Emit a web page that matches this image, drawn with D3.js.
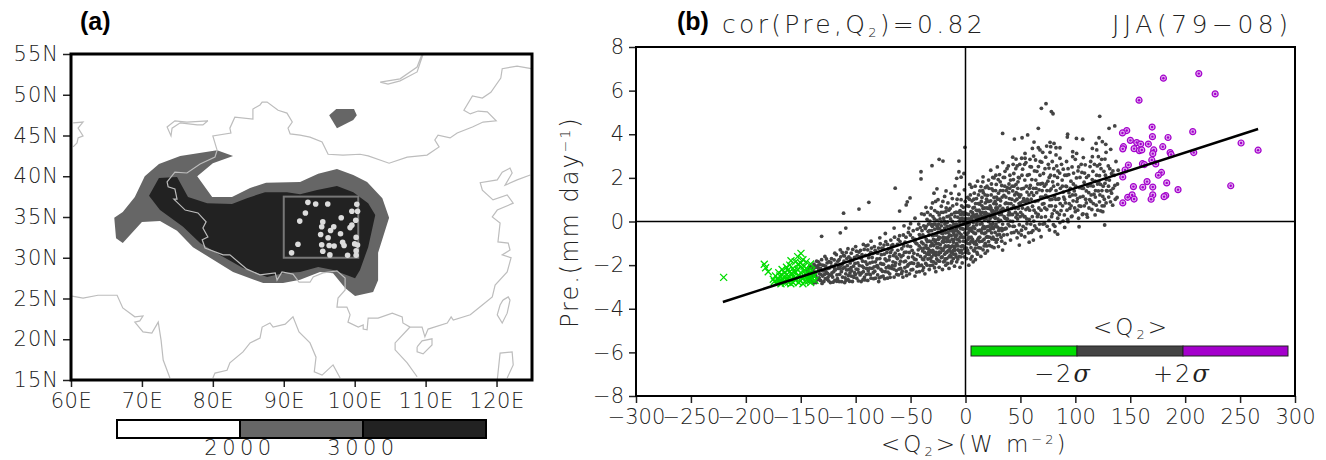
<!DOCTYPE html>
<html>
<head>
<meta charset="utf-8">
<script src="https://cdn.jsdelivr.net/npm/d3@7"></script>
<style>
  html, body { margin: 0; padding: 0; background: white; }
  svg { display: block; }
  text { font-family: "DejaVu Sans", sans-serif; font-weight: 200; fill: #222; }
</style>
</head>
<body>
<div id="chart"></div>
<script>
// ---- panel (a) data, everything in lon/lat ----
var lonTicks = [60, 70, 80, 90, 100, 110, 120];
var latTicks = [15, 20, 25, 30, 35, 40, 45, 50, 55];

var contour2000 = [[82.85,42.5],[80.6,43.2],[75.4,42.5],[72.4,41.5],[70.4,40],[69,37.45],[67.3,35.6],[66.1,34.9],[66.35,32.4],[67.3,31.8],[70,34.4],[72.55,34.5],[74.95,33.3],[77.2,31.3],[79.6,30],[82.85,28.25],[87.1,26.9],[89.9,26.9],[92.3,27.3],[95.1,28.25],[96.95,28.1],[98.65,26.3],[100.05,25.3],[102.6,25.8],[103.3,27.25],[103.3,30.6],[104.85,34.9],[103.9,37.3],[101.75,39.3],[99.8,40.15],[97.5,40.9],[94.85,40.3],[92.3,39.3],[87.5,39.2],[85.25,38.55],[82.7,37.45],[79.9,37.45],[77.8,40],[80,41.6]];
var contour2000b = [[96.4,47.5],[97.4,48.25],[99.9,48.25],[100.3,47.5],[99.8,46.9],[97.5,45.9]];
var contour3000 = [[72.4,39.8],[74.95,39.9],[76.5,37.45],[79.2,36.7],[82.7,36.6],[84.8,37.3],[87.35,38.05],[90.45,38.05],[92.3,37.8],[94.7,38.3],[97.5,38.8],[99.8,38.05],[101.9,36.7],[102.9,35.25],[101.9,31.3],[100.75,28.5],[100.05,27.5],[96.95,28.5],[94.85,28.85],[92.3,28.25],[89.9,28.1],[87.65,27.65],[84.25,28.75],[81,30.35],[78.2,31.8],[75.8,33.8],[72.55,35.85],[71,37.6]];

var borderChina = [[124.9,53.2],[122.9,53.5],[120.8,53.2],[120.6,52.05],[119.2,50.3],[118,49.6],[116.6,49.85],[115.4,48.1],[116.3,47.65],[117.4,48],[118.7,47.9],[119.95,46.8],[118.1,46.65],[116.6,46.05],[114.45,45.3],[113.45,44.7],[111.75,45.05],[111.3,44.45],[111.9,43.6],[110.2,42.6],[107.4,42.35],[104.85,41.6],[101.9,42.5],[100.75,42.7],[98.35,42.6],[96.25,42.7],[95.4,44.2],[93.7,44.8],[92.3,45.05],[90.9,45.2],[90.6,45.9],[91.2,46.65],[90.45,47.75],[89.2,48.1],[87.65,49.1],[86.95,49.1],[86.65,48.75],[85.65,48.25],[85.65,47],[83.1,47.25],[82.4,45.9],[82.55,45.3],[80,44.95],[80.6,43.2],[80.3,42.35],[78.2,41.5],[76.35,40.4],[74.65,40.5],[73.55,39.3],[73.7,38.7],[74.65,38.45],[74.95,37.2],[74.5,37.2],[76.1,35.85],[77.9,35.5],[79.05,34.4],[78.6,33.65],[79.3,32.55],[78.5,32.2],[78.9,31.2],[81.45,30.35],[82.4,30.35],[84.8,28.6],[86.65,27.9],[88.8,28.15],[89.05,27.25],[89.75,28.25],[91.3,28],[92.15,27],[93.7,27],[94.15,27.65],[95.55,28.15],[97.5,28.4],[98.65,27.5],[98.65,26.05],[97.65,25.05],[97.5,23.95],[98.9,23.95],[99.35,23],[99.05,22.1],[100.5,21.5],[101.2,21.75],[101.2,21.25],[101.75,21.15],[101.9,22.6],[103.3,22.6],[105.3,23.2],[106.7,22.75],[106.8,22],[107.8,21.5],[109.5,21.5],[109.9,20.3],[110.35,21.25],[113.05,22],[113.6,22.75],[113.9,22.35],[116.3,23],[118,24.2],[119.4,25.2],[119.8,26.65],[121.5,28.25],[122.05,30],[120.8,30.35],[121.9,30.95],[121.65,31.8],[120.2,31.95],[120.5,34.25],[119.4,35],[120.1,35.85],[122.35,36.7],[121.5,37.7],[119.5,37.1],[118,38.3],[117.7,39.2],[120.1,39.55],[120.8,40.5],[121.9,41],[122.2,40.4],[121.2,38.9],[122.9,39.55],[124.75,40.15]];
var coastVietnam = [[107.8,21.5],[105.7,19.55],[105.7,18.7],[107.4,17.1],[108.8,15.4]];
var coastHainan = [[108.8,19.05],[109.5,19.8],[110.9,20.05],[110.9,19.3],[109.65,18.2],[108.8,18.45],[108.8,19.05]];
var coastTaiwan = [[120.9,24.8],[121.65,25.2],[121.9,24.8],[121.5,23.2],[120.8,22],[120.1,23],[120.5,24.2],[120.9,24.8]];
var coastLuzon = [[120.1,15],[120.5,18.3],[122.2,18.45],[122.35,16.85],[121.5,15.25]];
var coastIndiaW = [[60.15,25.3],[61.7,25.05],[63.8,25.4],[66.5,25.4],[67.3,23.85],[69,22.75],[70.15,22.85],[69.7,22.25],[69,22.1],[70.15,20.9],[71.4,20.75],[72.3,22.1],[72.7,19.9],[73,17.45],[73.95,15.25]];
var coastIndiaE = [[80,15.25],[80.3,15.85],[82,16.2],[82.4,17.1],[84.25,18.45],[85.25,19.55],[86.65,20.15],[86.95,21.5],[88.05,22],[88.5,21.5],[90.2,21.85],[91.3,22.75],[92.15,20.9],[93.7,19.55],[94.55,17.8],[94.3,16],[95.4,15.6],[96.95,16.85],[97.95,15.25]];
var lakeAral = [[60.3,46.55],[61.7,46.65],[61,45.9],[61.7,44.95],[61,44.7],[60.85,44.1],[60.3,43.6]];
var lakeBalkhash = [[79.3,46.8],[76.35,46.65],[74.65,46.8],[73.55,46.05],[74.1,44.95],[74.25,45.9],[75.4,46.55],[77.8,46.3],[78.6,46.3],[79.3,46.8]];
var lakeBaikal = [[109.5,55],[108.8,53.4],[106.4,51.95],[103.6,51.55],[104.7,51.3],[106.4,51.7],[108.8,52.8],[109.65,55]];

var boxLon = [90, 100.5];
var boxLat = [30, 37.5];
var stations = [[93.4,36.8],[94.5,36.6],[96.2,36.6],[100.3,36.55],[99.6,35.7],[100.4,35.7],[93.05,35.5],[98.1,34.9],[100.15,34.6],[92.25,34.5],[95.5,34.4],[95.35,33.8],[97.05,33.8],[96.6,33.35],[99.6,34],[99.35,33.7],[95.2,32.85],[98,32.95],[96.25,32.45],[100.2,32.5],[95.35,31.6],[96.4,31.5],[97.1,31.45],[98.3,31.9],[98.5,31.5],[92,31.65],[100,31.7],[100.4,31.55],[95.5,30.8],[100.2,30.85],[91.1,30.6],[96.5,30.35],[99,30.3],[100.2,30.3]];

var barLevels = [2000, 3000];
var barColors = ["#ffffff", "#666666", "#222222"];

// ---- panel (b) data, x in W m-2, y in mm/day ----
var q2Ticks = [-300, -250, -200, -150, -100, -50, 0, 50, 100, 150, 200, 250, 300];
var preTicks = [-8, -6, -4, -2, 0, 2, 4, 6, 8];
var fitLine = [[-220.9, -3.69], [266.4, 4.24]];

var wetPoints = [[180.2,6.57],[212.4,6.78],[227.3,5.85],[158,5.56],[169.9,4.33],[146.8,4.17],[142.9,4.06],[206.9,4.12],[170.2,3.89],[184.4,3.85],[150.1,3.72],[155.9,3.62],[159.5,3.55],[166.5,3.55],[179.6,3.43],[143.8,3.43],[143.2,3.33],[153.5,3.34],[158.3,3.25],[160.5,3.28],[171.4,3.28],[170.5,3.11],[186.3,3.16],[187.2,3.07],[207.8,3.16],[250.9,3.6],[266.4,3.27],[169.6,2.82],[148.3,2.59],[161.1,2.65],[162.9,2.61],[173.2,2.64],[145.3,2.36],[178.4,2.25],[175.6,2.12],[143.2,2.04],[165.3,1.83],[183.2,1.77],[152.9,1.6],[161.4,1.57],[170.5,1.58],[193.5,1.46],[241.5,1.64],[147.7,1.11],[151.7,1.22],[153.5,1.03],[170.5,1.22],[169,1.02],[182.3,1.19],[180.8,1.14],[143.2,0.85]];

var dryPoints = [[-220.2,-2.56],[-183.2,-1.96],[-182,-2.12],[-179.6,-2.3],[-149.8,-1.46],[-152.8,-1.61],[-158.9,-1.8],[-155,-1.85],[-145,-1.85],[-141,-1.95],[-148,-1.75],[-152,-1.95],[-160,-2],[-163,-2.1],[-157,-2.15],[-150,-2.1],[-145,-2.15],[-140,-2.25],[-167,-2.2],[-170,-2.35],[-165,-2.35],[-160,-2.3],[-155,-2.35],[-150,-2.35],[-146,-2.4],[-142,-2.45],[-138,-2.5],[-173,-2.5],[-169,-2.5],[-165,-2.55],[-161,-2.5],[-157,-2.55],[-152,-2.5],[-148,-2.6],[-144,-2.6],[-140,-2.65],[-175,-2.65],[-171,-2.65],[-168,-2.7],[-163,-2.7],[-159,-2.7],[-155,-2.7],[-150,-2.72],[-146,-2.75],[-141,-2.8],[-137,-2.7],[-172,-2.8],[-168,-2.85],[-164,-2.82],[-159,-2.85],[-143,-2.25],[-147,-2.05],[-153,-2.2],[-158,-2.42],[-162,-2.62],[-167,-2.45],[-170,-2.72],[-155,-2.58],[-150,-1.9],[-144,-2.5],[-174,-2.75],[-169,-2.78],[-166,-2.65],[-161,-2.78],[-157,-2.8],[-152,-2.8],[-148,-2.85],[-143,-2.72],[-139,-2.4],[-146,-2.25],[-156,-2.25],[-162,-2.25]];

var normalPoints = [
// outliers read one by one
[-131,-0.68],[-114,-0.52],[-109,-0.3],[-111,0.38],[-97,0.57],[-88,0.88],[-64,1.53],[-50.5,1.08],[-53,0.9],[-54,0.76],[-60,0.48],[-40.5,2.28],[-40.5,1.95],[-30.5,2.56],[-24,2.85],[-20.5,2.77],[-6,2.77],[-6,2.28],[-8,1.98],[-4,2.03],[-1.4,2.2],[-26,1.5],[-28.7,1.3],[-0.5,3.4],
[73.3,5.4],[69.1,5.19],[78.2,5.04],[79.7,4.94],[122.2,4.82],[130.7,4.27],[135.9,4.38],[66.3,4.27],[33.8,4.04],[44.5,3.78],[51.5,3.84],[56.6,3.97],[93,4],[92.7,3.87],[101,3.81],[106.7,3.77],[121.6,3.84],[62.4,3.64],[60.9,3.35],[77,3.63],[80.6,3.58],[73.9,3.46],[77.6,3.43],[82.4,3.38],[86,3.38],[118.9,3.58],[124.6,3.66],[127.7,3.54],[132.2,3.31],[115.5,3.35],[119.5,3.28],[128,3.17],[66.3,3.38],[67.8,3.28],[70.3,3.17],[77,3.17],[82.4,3.05],[97.6,3.2],[101.2,3.12],[97.6,2.97],[107.3,2.93],[115.5,2.97],[121,2.97],[127,2.86],[46,2.86],[51.1,2.9],[54.2,2.9],[58.7,2.85],[54.2,3.12],
[126.7,-0.16],[103.4,-0.24],[123.1,0.49],[93.4,-0.01],[90.3,-0.27],[81.5,-0.47],[83.9,-0.58],[76.4,-0.39],[68.8,-0.7],[61.8,-0.85],[58,-0.95],[49,-1.08],[33.8,-1.31],[24,-1.15],[18,-1.45],
// left part of the band
[-144,-2.3],[-143,-2.6],[-142,-2.05],[-141,-2.45],[-140,-2.75],[-139,-2.2],[-138,-1.95],[-138,-2.5],[-137,-2.35],[-136,-2.8],[-135,-2.1],[-135,-2.6],[-134,-1.85],[-133,-2.4],[-132,-2.7],[-132,-2.15],[-131,-1.75],[-130,-2.5],[-130,-2],[-129,-2.75],[-128,-1.6],[-127,-2.3],[-126,-2.65],[-126,-1.9],[-125,-2.15],[-124,-2.45],[-123,-2.8],[-122,-1.7],[-122,-2.05],[-121,-2.55],[-120,-2.3],[-119,-1.45],[-119,-2.7],[-118,-1.95],[-117,-2.45],[-116,-2.15],[-115,-2.75],[-115,-1.75],[-114,-1.3],[-113,-2.3],[-112,-2.55],[-112,-1.95],[-111,-1.55],[-110,-2.8],[-110,-2.1],[-109,-2.4],[-108,-1.7],[-107,-2.65],[-107,-1.25],[-106,-2.2],[-105,-1.9],[-104,-2.5],[-104,-1.45],[-103,-2.75],[-102,-2.05],[-101,-2.35],[-101,-1.65],[-100,-1.15],[-99,-2.6],[-98,-1.9],[-98,-2.2],[-97,-1.4],[-96,-2.45],[-95,-2.75],[-95,-1.7],[-94,-2.05],[-93,-2.3],[-93,-1.05],[-92,-2.55],[-91,-1.55],[-91,-1.85],[-90,-2.15],[-89,-2.7],[-89,-1.3],[-88,-2.4],[-87,-1.9],[-86,-0.9],[-86,-2.6],[-85,-1.65],[-85,-2.15],[-84,-2.35],[-83,-1.15],[-82,-1.85],[-82,-2.6],[-81,-2.05],[-80,-1.45],[-80,-2.45],[-79,-2.75],[-78,-0.75],[-78,-1.7],[-77,-2.2],[-76,-1.95],[-75,-2.5],[-75,-1.25],[-74,-1.5],[-73,-2.3],[-73,-0.55],[-72,-1.8],[-71,-2.6],[-71,-1.05],[-70,-2.05],[-69,-1.6],[-69,-2.4],[-68,-0.85],[-67,-1.3],[-67,-2.15],[-66,-1.85],[-65,-2.55],[-65,-0.3],[-64,-1.45],[-63,-2.25],[-62,-1.05],[-62,-1.7],[-61,-2.45],[-60,-0.65],[-60,-1.95],[-59,-2.15],[-58,-1.25],[-57,-1.55],[-57,-2.55],[-56,-0.2],[-56,-1.85],[-55,-0.95],[-54,-2.3],[-54,-1.4],[-53,-2.05],[-52,-0.5],[-52,-1.65],[-51,-2.4],[-50,-1.15],[-50,-0.1],[-49,-1.9],[-48,-0.75],[-48,-2.2],[-47,-1.45],[-46,0.15],[-46,-2.5],[-45,-1],[-45,-1.75],[-44,-0.35],[-44,-2.05],[-43,-1.3],[-42,-2.3],[-42,-0.6],[-41,-1.6],[-40,0.35],[-40,-0.95],[-40,-2],
// middle, densest part
[-39,-1.35],[-39,-2.25],[-38,-0.2],[-38,-1.75],[-37,-0.7],[-37,-2.4],[-36,-1.1],[-36,0.65],[-35,-1.5],[-35,-2],[-35,0.1],[-34,-0.45],[-34,-1.25],[-33,-2.2],[-33,-0.9],[-32,-1.7],[-32,0.3],[-31,-1.4],[-31,-0.15],[-30,-2],[-30,-0.65],[-30,0.85],[-29,-1.1],[-29,-1.85],[-28,-0.35],[-28,0.5],[-27,-1.55],[-27,-2.3],[-27,-0.85],[-26,0.05],[-26,-1.2],[-25,-1.8],[-25,-0.5],[-25,1],[-24,-1.4],[-24,-2.1],[-24,0.3],[-23,-0.75],[-23,-1.05],[-22,-1.65],[-22,-0.2],[-22,0.7],[-21,-1.3],[-21,-2.2],[-21,-0.55],[-20,0.15],[-20,-0.95],[-20,-1.85],[-19,1.15],[-19,-1.5],[-19,-0.3],[-18,-0.75],[-18,-2],[-18,0.45],[-17.7,1.4],[-17,-1.15],[-17,-0.05],[-17,-1.7],[-16,0.85],[-16,-0.5],[-16,-1.35],[-15,-2.15],[-15,-0.9],[-15,0.25],[-14,-1.55],[-14,-0.2],[-14,0.6],[-13.2,1.29],[-13,-1.15],[-13,-1.9],[-13,-0.65],[-12,0],[-12,-1.4],[-12,1.05],[-11,-0.4],[-11,-0.95],[-11,-1.7],[-10,0.4],[-10,-2.05],[-10,-1.2],[-9.5,1.63],[-9,-0.15],[-9,-0.7],[-9,-1.5],[-8,0.8],[-8,-1],[-8,-1.85],[-7,0.2],[-7,-0.45],[-7,-1.3],[-6,1.25],[-6,-0.85],[-6,-1.6],[-5,0.5],[-5,-0.1],[-5,-2.1],[-4,-1.15],[-4,-0.6],[-4,1],[-3,0.15],[-3,-1.45],[-3,-1.9],[-2,-0.35],[-2,0.65],[-2,-0.9],[-1,1.45],[-1,-1.25],[-1,0],[1,-0.6],[1,0.35],[1,-1.7],[2,1.1],[2,-1],[2,-0.2],[3,-1.45],[3,0.7],[3,-2],[4,0.1],[4,-0.75],[4,1.7],[5,-1.2],[5,0.45],[5.6,1.57],[6,-0.45],[6,-1.6],[6,0.95],[7,-0.05],[7,-0.95],[7,-1.85],[8,0.65],[8,1.3],[8,-1.35],[9,-0.55],[9,0.2],[9,-1.75],[10,-1.05],[10,1.05],[10,-0.15],[11,0.5],[11,-1.5],[11,1.85],[12,-0.75],[12,0.05],[12,-1.2],[13,1.4],[13,0.8],[13,-0.4],[14,-1.6],[14.1,1.6],[14,0.3],[15,-0.9],[15,-0.1],[15,1.1],[16,-1.3],[16,0.6],[16,2.05],[17,-0.55],[17,0.1],[18,-1],[18,1.55],[18,0.85],[19,-0.25],[19,0.35],[20,-1.35],[20,-0.7],[20,1.2],[21,1.9],[21,0.6],[21,0],[22,-1.1],[22,-0.4],[23,0.95],[23,0.2],[23,2.35],[24,-0.8],[24,1.5],[25,-0.1],[25,0.5],[26,-1.2],[26,2],[26,1.1],[27,-0.5],[27,0.15],[28,0.8],[28,1.7],[28,-0.95],[29,2.5],[29,-0.25],[30,0.4],[30,1.3],[30,-1.15],[31,-0.6],[31,2.15],[32,0.95],[32,0.05],[33,-0.9],[33,1.65],[34,0.6],[34,2.7],[35,-0.35],[35,1.2],[36,0.15],[36,-1],[36,2.3],[37,0.85],[38,1.55],[38,-0.6],[39,0.3],[39,2.55],[40,-0.2],[40,1.05],[41,1.9],[41,-0.85],[42,0.6],[43,0],[43,1.4],[43,2.95],[44,-0.5],[44,2.2],[45,0.95],[46,0.2],[46,1.7],[47,-0.75],[47,2.55],[48,0.6],[48,1.25],[49,-0.15],[49,2],[50,0.85],
// right part of the band
[51,-0.4],[51,1.5],[52,0.3],[52,2.4],[53,1.05],[54,-0.7],[54,1.9],[55,0.55],[55,2.7],[56,-0.1],[56,1.35],[57,0.95],[58,2.15],[58,0.1],[59,1.65],[60,-0.5],[60,2.5],[61,0.7],[62,1.2],[62,3],[63,-0.2],[64,1.9],[64,0.4],[65,2.3],[66,0.95],[67,-0.4],[67,1.45],[68,2.75],[69,0.2],[70,1.75],[70,0.8],[71,2.2],[72,-0.1],[73,1.2],[73,2.95],[74,0.55],[75,1.85],[76,2.45],[76,0.05],[77,1],[78,1.5],[79,2.75],[79,0.35],[80,-0.15],[81,1.15],[81,2.1],[82,0.7],[83,2.55],[84,1.7],[84,0.15],[85,1.05],[86,2.9],[86,-0.05],[87,0.5],[88,1.9],[89,1.35],[89,2.4],[90,0.3],[91,0.85],[92,2.75],[92,1.6],[93,0.1],[94,2.15],[95,1.15],[95,0.6],[96,1.85],[97,2.5],[97,0.25],[98,0.95],[99,1.4],[100,2.85],[100,0.45],[101,2],[102,1.05],[103,0.15],[103,2.5],[104,1.55],[105,0.7],[106,2.25],[107,1.15],[107,0.35],[108,1.8],[109,2.6],[110,0.85],[110,1.4],[111,0.2],[112,2.1],[113,1],[114,1.65],[114,2.75],[115,0.55],[116,2.3],[117,1.25],[118,0.3],[118,1.85],[119,0.75],[120,2.55],[121,1.4],[122,0.9],[122,2.1],[123,1.7],[124,2.85],[125,1.15],[125,0.45],[126,2.3],[127,1.75],[128,0.85],[129,1.4],[130,2.55],[131,1.9],[132,0.9],[133,1.3],[133,2.2],[134,0.75],[136,1.65],[137,2.75],[138,1.1],[139,2.35]
];

// second pass over the cloud: the dots between the ones above
var normalFill = [
// left
[-143.4,-2.18],[-142.6,-2.74],[-141.3,-2.33],[-140.4,-2.08],[-139.5,-2.56],[-138.4,-2.82],[-137.6,-2.12],[-136.4,-2.48],[-135.5,-1.82],[-134.6,-2.66],[-133.6,-2.22],[-132.5,-1.96],[-131.6,-2.42],[-130.6,-2.84],[-129.5,-2.26],[-128.6,-2.02],[-127.6,-2.62],[-126.6,-1.72],[-125.6,-2.38],[-124.6,-2.72],[-123.6,-2.12],[-122.6,-1.88],[-121.6,-2.36],[-120.6,-2.78],[-119.6,-1.76],[-118.6,-2.22],[-117.6,-1.52],[-116.6,-2.62],[-115.6,-2.02],[-114.6,-2.42],[-113.6,-1.62],[-112.7,-2.76],[-111.6,-2.16],[-110.6,-1.82],[-109.6,-2.58],[-108.6,-1.42],[-107.6,-2.02],[-106.6,-2.48],[-105.6,-2.74],[-104.6,-1.72],[-103.6,-2.26],[-102.6,-1.28],[-101.6,-2.56],[-100.6,-1.92],[-99.6,-2.18],[-98.6,-1.56],[-97.6,-2.72],[-96.6,-2.02],[-95.6,-1.32],[-94.6,-2.36],[-93.6,-1.82],[-92.6,-2.12],[-91.6,-2.68],[-90.6,-1.12],[-89.6,-1.96],[-88.6,-2.26],[-87.6,-1.52],[-86.6,-2.44],[-85.6,-1.22],[-84.6,-1.86],[-83.6,-2.62],[-82.6,-2.28],[-81.6,-1.42],[-80.6,-1.72],[-79.6,-2.12],[-78.6,-2.58],[-77.6,-1.02],[-76.6,-1.52],[-75.6,-2.28],[-74.6,-1.96],[-73.6,-2.62],[-72.6,-0.92],[-71.6,-1.42],[-70.6,-2.32],[-69.6,-1.76],[-68.6,-2.56],[-67.6,-1.12],[-66.6,-2.02],[-65.6,-1.56],[-64.6,-0.72],[-63.6,-1.9],[-62.6,-2.42],[-61.6,-1.32],[-60.6,-2.18],[-59.6,-0.92],[-58.6,-1.62],[-57.6,-2.28],[-56.6,-0.62],[-55.6,-1.42],[-54.6,-1.82],[-53.6,-2.48],[-52.6,-1.12],[-51.6,-0.3],[-50.6,-1.92],[-49.6,-2.22],[-48.6,-1.32],[-47.6,-0.42],[-46.6,-1.72],[-45.6,-0.82],[-44.6,-2.32],[-43.6,-1.52],[-42.6,-0.12],[-41.6,-2.02],[-40.6,-1.22],[-143,-2.42],[-139,-2.38],[-134.2,-2.02],[-128.2,-2.42],[-124.2,-1.84],[-120.2,-2.06],[-116.2,-1.82],[-112.2,-1.42],[-108.2,-2.22],[-104.2,-2.12],[-100.2,-2.42],[-96.2,-1.62],[-92.2,-1.28],[-88.2,-1.66],[-84.2,-1.46],[-80.2,-2.02],[-76.2,-1.22],[-72.2,-2.12],[-68.2,-1.42],[-64.2,-2.02],[-60.2,-1.52],[-56.2,-1.12],[-52.2,-1.98],[-48.2,-1.62],[-44.2,-1.02],[-41.2,-0.72],
// middle
[-39.6,-0.42],[-39.2,-1.72],[-38.6,-1.02],[-38.2,-2.12],[-37.6,0.32],[-37.2,-1.42],[-36.6,-0.32],[-36.2,-1.92],[-35.6,-0.82],[-35.2,-1.22],[-34.6,0.42],[-34.2,-1.72],[-33.6,-0.12],[-33.2,-0.62],[-32.6,-1.32],[-32.2,-2.02],[-31.6,-0.92],[-31.2,0.62],[-30.6,-1.62],[-30.2,-0.22],[-29.6,0.22],[-29.2,-0.82],[-28.6,-1.42],[-28.2,-2.12],[-27.6,-0.12],[-27.2,0.92],[-26.6,-1.02],[-26.2,-1.72],[-25.6,0.42],[-25.2,-0.32],[-24.6,-1.02],[-24.2,-0.72],[-23.6,-1.82],[-23.2,0.12],[-22.6,-1.22],[-22.2,0.42],[-21.6,-0.42],[-21.2,-1.62],[-20.6,0.92],[-20.2,-0.72],[-19.6,-1.22],[-19.2,0.02],[-18.6,-1.72],[-18.2,-0.52],[-17.6,0.62],[-17.2,-0.92],[-16.6,-0.22],[-16.2,-1.92],[-15.6,-1.12],[-15.2,0.52],[-14.6,-0.62],[-14.2,-1.22],[-13.6,0.12],[-13.2,-1.62],[-12.6,-0.42],[-12.2,-0.82],[-11.6,0.72],[-11.2,-1.32],[-10.6,-0.12],[-10.2,-0.62],[-9.6,0.22],[-9.2,-1.12],[-8.6,-1.62],[-8.2,-0.32],[-7.6,1.02],[-7.2,-0.82],[-6.6,0.42],[-6.2,-1.32],[-5.6,-0.52],[-5.2,-0.92],[-4.6,0.12],[-4.2,-1.62],[-3.6,0.72],[-3.2,-0.32],[-2.6,-0.72],[-2.2,-1.12],[-1.6,0.32],[-1.2,-1.62],[-0.6,-0.52],[-0.2,0.92],[0.4,-0.92],[0.8,-0.12],[1.4,0.72],[1.8,-1.32],[2.4,-0.52],[2.8,0.32],[3.4,-0.12],[3.8,-1.02],[4.4,1.22],[4.8,-1.72],[5.4,-0.32],[5.8,0.12],[6.4,-0.82],[6.8,0.62],[7.4,-1.32],[7.8,0.22],[8.4,-0.32],[8.8,1.62],[9.4,-0.92],[9.8,0.52],[10.4,-1.42],[10.8,0.02],[11.4,-0.42],[11.8,1.22],[12.4,0.52],[12.8,-0.92],[13.4,0.12],[13.8,-1.22],[14.4,0.92],[14.8,-0.52],[15.4,0.42],[15.8,1.82],[16.4,-0.22],[16.8,-0.82],[17.4,0.62],[17.8,1.22],[18.4,-0.52],[18.8,0.12],[19.4,-1.12],[19.8,0.92],[20.4,0.32],[20.8,-0.22],[21.4,1.52],[21.8,-0.72],[22.4,0.72],[22.8,-0.12],[23.4,1.22],[23.8,-0.52],[24.4,0.42],[24.8,2.02],[25.4,-0.32],[25.8,0.82],[26.4,-0.82],[26.8,0.22],[27.4,1.42],[27.8,-0.12],[28.4,0.52],[28.8,-0.62],[29.4,1.02],[29.8,1.92],[30.4,0],[30.8,-0.32],[31.4,0.72],[31.8,1.42],[32.4,-0.72],[32.8,0.32],[33.4,1.12],[33.8,-0.12],[34.4,2.02],[34.8,-0.62],[35.4,0.52],[35.8,1.62],[36.4,-0.32],[36.8,1.12],[37.4,0.12],[37.8,2.42],[38.4,0.62],[38.8,-0.12],[39.4,1.32],[39.8,0.42],[40.4,2.12],[40.8,0.02],[41.4,0.82],[41.8,-0.52],[42.4,1.62],[42.8,0.32],[43.4,2.62],[43.8,0.72],[44.4,-0.22],[44.8,1.22],[45.4,0.42],[45.8,2.42],[46.4,-0.42],[46.8,1.02],[47.4,0.12],[47.8,1.82],[48.4,-0.52],[48.8,0.82],[49.4,2.62],[49.8,0.22],
// thick core around the line
[-30.4,-1.02],[-28.4,-0.62],[-26.4,-0.62],[-24.4,-0.12],[-22.4,-0.52],[-20.4,-1.32],[-18.4,-1.12],[-16.4,-0.82],[-14.4,-0.92],[-12.4,-0.22],[-10.4,-0.82],[-8.4,-0.12],[-6.4,-0.22],[-4.4,-0.32],[-2.4,0.02],[-0.4,-0.92],[1.6,-0.32],[3.6,-0.42],[5.6,0.22],[7.6,-0.52],[9.6,0.02],[11.6,0.22],[13.6,0.42],[15.6,-0.32],[17.6,0.32],[19.6,0.62],[21.6,0.32],[23.6,0.52],[25.6,0.22],[27.6,0.62],[29.6,0.12],[-33,-1.52],[-29,-1.52],[-25,-1.2],[-21,-0.92],[-17,-1.42],[-13,-1.42],[-9,-0.42],[-5,-1.42],[-1,-0.72],[3,-0.72],[7,0.32],[11,0.12],[15,0.72],[19,-0.72],[23,-0.32],[27,0.92],[31,0.32],[-31,-1.82],[-27,-1.92],[-23,-1.42],[-19,-1.82],[-15,-1.62],[-11,-1.5],[-7,-1.72],[-3,-1.12],[1,-1.22],[5,-0.92],[9,-1.22],[13,-0.72],[17,-1.12],[21,-0.92],[25,-0.72],[29,-0.82],[33,-0.32],[37,-0.32],
// right
[50.4,1.22],[50.8,-0.62],[51.4,2.12],[51.8,0.62],[52.4,-0.22],[52.8,1.52],[53.4,0.22],[53.8,2.62],[54.4,0.92],[54.8,-0.32],[55.4,1.62],[55.8,0.12],[56.4,2.12],[56.8,0.62],[57.4,-0.52],[57.8,1.22],[58.4,0.52],[58.8,2.52],[59.4,-0.12],[59.8,1.02],[60.4,1.92],[60.8,0.22],[61.4,-0.42],[61.8,1.52],[62.4,0.52],[62.8,2.32],[63.4,0.92],[63.8,2.82],[64.4,-0.32],[64.8,1.32],[65.4,0.22],[65.8,1.72],[66.4,2.52],[66.8,0.62],[67.4,-0.12],[67.8,2.12],[68.4,1.12],[68.8,0.52],[69.4,2.72],[69.8,1.42],[70.4,-0.12],[71.4,0.82],[71.8,1.62],[72.4,2.42],[72.8,0.22],[73.4,1.72],[74.4,-0.22],[74.8,1.12],[75.4,2.62],[76.4,0.72],[76.8,1.42],[77.4,2.12],[78.4,0.22],[78.8,1.02],[79.4,1.82],[80.4,2.42],[80.8,0.52],[81.4,-0.22],[82.4,1.42],[83.4,0.42],[83.8,2.02],[84.4,1.02],[85.4,0.32],[85.8,2.22],[86.4,1.52],[87.4,2.62],[88.4,0.72],[88.8,0.02],[89.4,1.12],[90.4,2.12],[91.4,1.62],[92.4,0.52],[93.4,2.42],[94.4,0.82],[95.4,1.52],[96.4,0.22],[97.4,1.22],[98.4,2.22],[99.4,0.62],[100.4,1.62],[101.4,0.92],[102.4,2.32],[103.4,0.72],[104.4,1.12],[105.4,2.62],[106.4,0.32],[107.4,1.52],[108.4,2.22],[109.4,1.02],[110.4,0.32],[111.4,1.62],[112.4,0.62],[113.4,2.52],[114.4,1.22],[115.4,1.92],[116.4,0.82],[117.4,2.62],[118.4,1.42],[119.4,2.12],[120.4,0.52],[121.4,1.82],[122.4,1.22],[123.4,2.42],[124.4,0.72],[125.4,1.62],[126.4,1.02],[127.4,2.12],[128.4,1.42],[130.4,1.12],[131.4,2.42],[134.4,1.52],[135.4,2.12],[136.4,1.02],[138.4,1.72]
];

// third pass, the solid-looking parts of the band
var normalCore = [
[-141.8,-2.62],[-138.8,-2.28],[-136.8,-2.04],[-133.2,-2.58],[-130.2,-2.24],[-127.2,-2.06],[-125.2,-2.56],[-122.2,-2.46],[-119.2,-2.16],[-117.2,-2.74],[-114.2,-2.16],[-113.2,-2.02],[-110.2,-1.58],[-108.8,-2.7],[-106.2,-1.62],[-105.2,-2.36],[-102.8,-1.78],[-102.2,-2.52],[-99.2,-1.36],[-97.2,-2.34],[-94.2,-1.52],[-93.2,-2.66],[-90.2,-2.42],[-88.8,-1.08],[-87.2,-2.14],[-86.2,-1.42],[-83.2,-2.08],[-82.2,-1.32],[-79.2,-1.22],[-77.2,-1.92],[-76.8,-2.54],[-74.2,-1.08],[-73.2,-1.72],[-70.2,-1.26],[-69.2,-2.12],[-66.2,-1.06],[-65.2,-2.18],[-63.2,-1.62],[-61.2,-0.82],[-59.2,-1.82],[-58.2,-2.38],[-55.2,-2.12],[-54.2,-0.72],[-51.2,-1.42],[-50.2,-0.62],[-47.2,-1.92],[-46.2,-0.92],[-43.2,-1.92],[-42.2,-1.12],[-41.2,-0.28],
[-38.8,-0.62],[-37.8,-1.22],[-36.8,-1.62],[-35.8,-0.22],[-34.8,-0.92],[-33.8,-1.42],[-32.8,-0.42],[-31.8,-1.12],[-30.8,-0.42],[-29.8,-1.32],[-28.8,-0.12],[-27.8,-0.92],[-26.8,-1.42],[-25.8,-0.22],[-24.8,-0.82],[-23.8,-0.32],[-22.8,-1.42],[-21.8,-0.02],[-20.8,-0.52],[-19.8,-0.82],[-18.8,-0.12],[-17.8,-1.42],[-16.8,0.22],[-15.8,-0.72],[-14.8,-1.32],[-13.8,-0.42],[-12.8,0.32],[-11.8,-1.12],[-10.8,-0.52],[-9.8,-1.32],[-8.8,0.42],[-7.8,-0.62],[-6.8,-1.12],[-5.8,0.02],[-4.8,-0.72],[-3.8,-1.32],[-2.8,0.42],[-1.8,-0.12],[-0.8,0.42],[0.2,-1.42],[1.2,0.12],[2.2,-0.82],[3.2,0.12],[4.2,-0.32],[5.2,-0.72],[6.2,0.42],[7.2,-0.22],[8.2,-1.02],[9.2,0.82],[10.2,0.32],[11.2,-0.82],[12.2,0.82],[13.2,-0.12],[14.2,-0.42],[15.2,0.22],[16.2,1.32],[17.2,-0.32],[18.2,0.42],[19.2,1.02],[20.2,-0.42],[21.2,0.92],[22.2,0.12],[23.2,0.62],[24.2,-0.22],[25.2,1.42],[26.2,0.42],[27.2,-0.22],[28.2,1.12],[29.2,0.62],[30.2,-0.42],[31.2,1.02],[32.2,0.52],[33.2,-0.42],[34.2,1.42],[35.2,0.22],[36.2,0.82],[37.2,1.42],[38.2,0.12],[39.2,0.82],[40.2,1.52],[41.2,0.32],[42.2,1.02],[43.2,-0.22],[44.2,1.62],[45.2,0.62],[46.2,1.32],[47.2,0.32],[48.2,2.02],[49.2,1.12],[50.2,0.42],
[-32.4,0.02],[-28.4,0.12],[-24.4,-1.52],[-20.4,0.42],[-16.4,-0.02],[-12.4,-1.82],[-8.4,0.42],[-4.4,0.32],[-0.4,0.12],[3.6,1.02],[7.6,1.02],[11.6,0.82],[15.6,1.42],[19.6,1.62],[23.6,1.72],[27.6,2.12],[31.6,1.82],[35.6,2.02],[39.6,1.72],[43.6,1.92],[47.6,1.52],
[52.2,0.92],[54.2,0.22],[56.2,1.02],[58.2,1.52],[60.2,1.32],[62.2,0.02],[64.2,1.52],[66.2,0.32],[68.2,1.72],[70.2,1.12],[72.2,0.62],[74.2,1.42],[76.2,2.02],[78.2,0.72],[80.2,1.62],[82.2,1.02],[84.2,2.32],[86.2,0.82],[88.2,1.62],[90.2,1.02],[92.2,2.12],[94.2,1.32],[96.2,0.72],[98.2,1.72],[100.2,1.22],[102.2,0.52],[104.2,2.02],[106.2,1.52],[108.2,0.72],[110.2,2.02],[112.2,1.32],[114.2,0.92],[116.2,1.62],[118.2,1.12],[120.2,1.72],[122.2,2.62],[124.2,1.42],[126.2,0.72],[128.2,1.92],[130.2,1.62],[132.2,1.42],[134.2,2.32]
];

// ---- layout ----
var width = 1326, height = 460;
var mapLeft = 71, mapRight = 532, mapTop = 54, mapBottom = 380;
var plotLeft = 636, plotRight = 1295, plotTop = 47, plotBottom = 396;

var svg = d3.select("#chart").append("svg")
  .attr("width", width)
  .attr("height", height);

var defs = svg.append("defs");
defs.append("clipPath").attr("id", "mapClip").append("rect")
  .attr("x", mapLeft).attr("y", mapTop)
  .attr("width", mapRight - mapLeft).attr("height", mapBottom - mapTop);

// ---- panel (a) ----
var lon = d3.scaleLinear().domain([60, 125]).range([mapLeft, mapRight]);
var lat = d3.scaleLinear().domain([15, 55]).range([mapBottom, mapTop]);
var geoLine = d3.line().x(function (d) { return lon(d[0]); }).y(function (d) { return lat(d[1]); });

var map = svg.append("g").attr("clip-path", "url(#mapClip)");

map.append("path").attr("d", geoLine(contour2000) + "Z").attr("fill", barColors[1]);
map.append("path").attr("d", geoLine(contour2000b) + "Z").attr("fill", barColors[1]);
map.append("path").attr("d", geoLine(contour3000) + "Z").attr("fill", barColors[2]);

var geoLines = [borderChina, coastVietnam, coastHainan, coastTaiwan, coastLuzon, coastIndiaW, coastIndiaE, lakeAral, lakeBalkhash, lakeBaikal];
map.selectAll(".coast")
  .data(geoLines)
  .enter()
  .append("path")
  .attr("class", "coast")
  .attr("d", geoLine)
  .attr("fill", "none")
  .attr("stroke", "#bdbdbd")
  .attr("stroke-width", 1.2);

map.append("rect")
  .attr("x", lon(boxLon[0])).attr("y", lat(boxLat[1]))
  .attr("width", lon(boxLon[1]) - lon(boxLon[0]))
  .attr("height", lat(boxLat[0]) - lat(boxLat[1]))
  .attr("fill", "none")
  .attr("stroke", "#777")
  .attr("stroke-width", 2);

map.selectAll(".station")
  .data(stations)
  .enter()
  .append("circle")
  .attr("class", "station")
  .attr("cx", function (d) { return lon(d[0]); })
  .attr("cy", function (d) { return lat(d[1]); })
  .attr("r", 2.8)
  .attr("fill", "#dcdcdc");

// axes, thin wide lettering like the original
function styleAxis(g, size, spacing) {
  g.select(".domain").remove();
  g.selectAll(".tick line").attr("stroke", "#222").attr("stroke-width", 1.5);
  g.selectAll(".tick text")
    .attr("font-size", size)
    .attr("letter-spacing", spacing)
    .style("font-family", "'DejaVu Sans', sans-serif")
    .style("font-weight", 200)
    .attr("fill", "#222");
}

svg.append("g")
  .attr("transform", "translate(0," + mapBottom + ")")
  .call(d3.axisBottom(lon).tickValues(lonTicks).tickSize(7).tickPadding(6).tickFormat(function (d) { return d + "E"; }))
  .call(styleAxis, 21, 0.5);

svg.append("g")
  .attr("transform", "translate(" + mapLeft + ",0)")
  .call(d3.axisLeft(lat).tickValues(latTicks).tickSize(8).tickPadding(4).tickFormat(function (d) { return d + "N"; }))
  .call(styleAxis, 21, 1);

svg.append("rect")
  .attr("x", mapLeft).attr("y", mapTop)
  .attr("width", mapRight - mapLeft).attr("height", mapBottom - mapTop)
  .attr("fill", "none").attr("stroke", "#000").attr("stroke-width", 3);

// elevation colour bar
var barScale = d3.scaleLinear().domain([1000, 4000]).range([117, 486]);
var barEdges = [1000, 2000, 3000, 4000];
svg.selectAll(".barCell")
  .data(barColors)
  .enter()
  .append("rect")
  .attr("class", "barCell")
  .attr("x", function (d, i) { return barScale(barEdges[i]); })
  .attr("y", 420)
  .attr("width", function (d, i) { return barScale(barEdges[i + 1]) - barScale(barEdges[i]); })
  .attr("height", 18)
  .attr("fill", function (d) { return d; })
  .attr("stroke", "#000")
  .attr("stroke-width", 2);
svg.selectAll(".barLabel")
  .data(barLevels)
  .enter()
  .append("text")
  .attr("class", "barLabel")
  .attr("x", function (d) { return barScale(d); })
  .attr("y", 455)
  .attr("text-anchor", "middle")
  .attr("font-size", 21)
  .attr("letter-spacing", 4.5)
  .text(function (d) { return d; });

svg.append("text").attr("x", 80).attr("y", 30)
  .style("font-family", "Liberation Sans").style("font-weight", 700)
  .attr("font-size", 25).style("fill", "#000").text("(a)");

// ---- panel (b) ----
var x = d3.scaleLinear().domain([-300, 300]).range([plotLeft, plotRight]);
var y = d3.scaleLinear().domain([-8, 8]).range([plotBottom, plotTop]);

svg.selectAll(".normal")
  .data(normalPoints.concat(normalFill, normalCore))
  .enter()
  .append("circle")
  .attr("class", "normal")
  .attr("cx", function (d) { return x(d[0]); })
  .attr("cy", function (d) { return y(d[1]); })
  .attr("r", 1.9)
  .attr("fill", "#444");

svg.selectAll(".dry")
  .data(dryPoints)
  .enter()
  .append("path")
  .attr("class", "dry")
  .attr("transform", function (d) { return "translate(" + x(d[0]) + "," + y(d[1]) + ")"; })
  .attr("d", "M-3.5,-3.5L3.5,3.5M-3.5,3.5L3.5,-3.5")
  .attr("stroke", "#00dd00")
  .attr("stroke-width", 1.3)
  .attr("fill", "none");

var wet = svg.selectAll(".wet")
  .data(wetPoints)
  .enter()
  .append("g")
  .attr("class", "wet")
  .attr("transform", function (d) { return "translate(" + x(d[0]) + "," + y(d[1]) + ")"; });
wet.append("circle").attr("r", 3).attr("fill", "#dfa8ee").attr("stroke", "#a400cc").attr("stroke-width", 1.2);
wet.append("circle").attr("r", 1.2).attr("fill", "#a400cc");

// axis cross lines
svg.append("line")
  .attr("x1", x(-300)).attr("x2", x(300)).attr("y1", y(0)).attr("y2", y(0))
  .attr("stroke", "#000").attr("stroke-width", 1.5);
svg.append("line")
  .attr("x1", x(0)).attr("x2", x(0)).attr("y1", y(-8)).attr("y2", y(8))
  .attr("stroke", "#000").attr("stroke-width", 1.5);

svg.append("path")
  .attr("d", d3.line().x(function (d) { return x(d[0]); }).y(function (d) { return y(d[1]); })(fitLine))
  .attr("stroke", "#000").attr("stroke-width", 2.5).attr("fill", "none");

svg.append("g")
  .attr("transform", "translate(0," + plotBottom + ")")
  .call(d3.axisBottom(x).tickValues(q2Ticks).tickSize(7).tickPadding(6).tickFormat(function (d) { return d < 0 ? "\u2212" + (-d) : d; }))
  .call(styleAxis, 21, 0);

svg.append("g")
  .attr("transform", "translate(" + plotLeft + ",0)")
  .call(d3.axisLeft(y).tickValues(preTicks).tickSize(7).tickPadding(5).tickFormat(function (d) { return d < 0 ? "\u2212" + (-d) : d; }))
  .call(styleAxis, 21, 0);

svg.append("rect")
  .attr("x", plotLeft).attr("y", plotTop)
  .attr("width", plotRight - plotLeft).attr("height", plotBottom - plotTop)
  .attr("fill", "none").attr("stroke", "#000").attr("stroke-width", 2);

// titles
svg.append("text").attr("x", 677).attr("y", 30)
  .style("font-family", "Liberation Sans").style("font-weight", 700)
  .attr("font-size", 25).style("fill", "#000").text("(b)");

function subText(sel, parts) {
  // parts: [text, dy, size]
  parts.forEach(function (p) {
    sel.append("tspan").attr("dy", p[1]).attr("font-size", p[2]).text(p[0]);
  });
  return sel;
}

subText(svg.append("text").attr("x", 722).attr("y", 33).attr("letter-spacing", 3.3),
  [["cor(Pre,Q", 0, 25], ["2", 4, 13], [")=0.82", -4, 25]]);

svg.append("text").attr("x", 1112).attr("y", 33)
  .attr("font-size", 25).attr("letter-spacing", 4.5).text("JJA(79\u221208)");

// axis titles
subText(svg.append("text").attr("x", 881).attr("y", 452).attr("letter-spacing", 3),
  [["<Q", 0, 23], ["2", 4, 13], [">(W", -4, 23], ["\u00a0m", 0, 23], ["\u22122", -8, 13], [")", 8, 23]]);

subText(svg.append("text").attr("transform", "translate(578,328) rotate(-90)").attr("letter-spacing", 2),
  [["Pre.(mm day", 0, 24], ["\u22121", -8, 14], [")", 8, 24]]);

// Q2 legend strip
var legendColors = ["#00dd00", "#444444", "#a400cc"];
var legendEdges = [971, 1077, 1183, 1288];
svg.selectAll(".legendCell")
  .data(legendColors)
  .enter()
  .append("rect")
  .attr("class", "legendCell")
  .attr("x", function (d, i) { return legendEdges[i]; })
  .attr("y", 346)
  .attr("width", function (d, i) { return legendEdges[i + 1] - legendEdges[i]; })
  .attr("height", 10)
  .attr("fill", function (d) { return d; })
  .attr("stroke", "#222")
  .attr("stroke-width", 1);

subText(svg.append("text").attr("x", 1093).attr("y", 335).attr("letter-spacing", 3),
  [["<Q", 0, 23], ["2", 4, 13], [">", -4, 23]]);

svg.append("text").attr("x", 1034).attr("y", 382).attr("font-size", 24).attr("letter-spacing", 2).text("\u22122")
  .append("tspan").style("font-style", "italic").style("font-family", "DejaVu Serif").text("\u03c3");
svg.append("text").attr("x", 1153).attr("y", 382).attr("font-size", 24).attr("letter-spacing", 2).text("+2")
  .append("tspan").style("font-style", "italic").style("font-family", "DejaVu Serif").text("\u03c3");
</script>
</body>
</html>
